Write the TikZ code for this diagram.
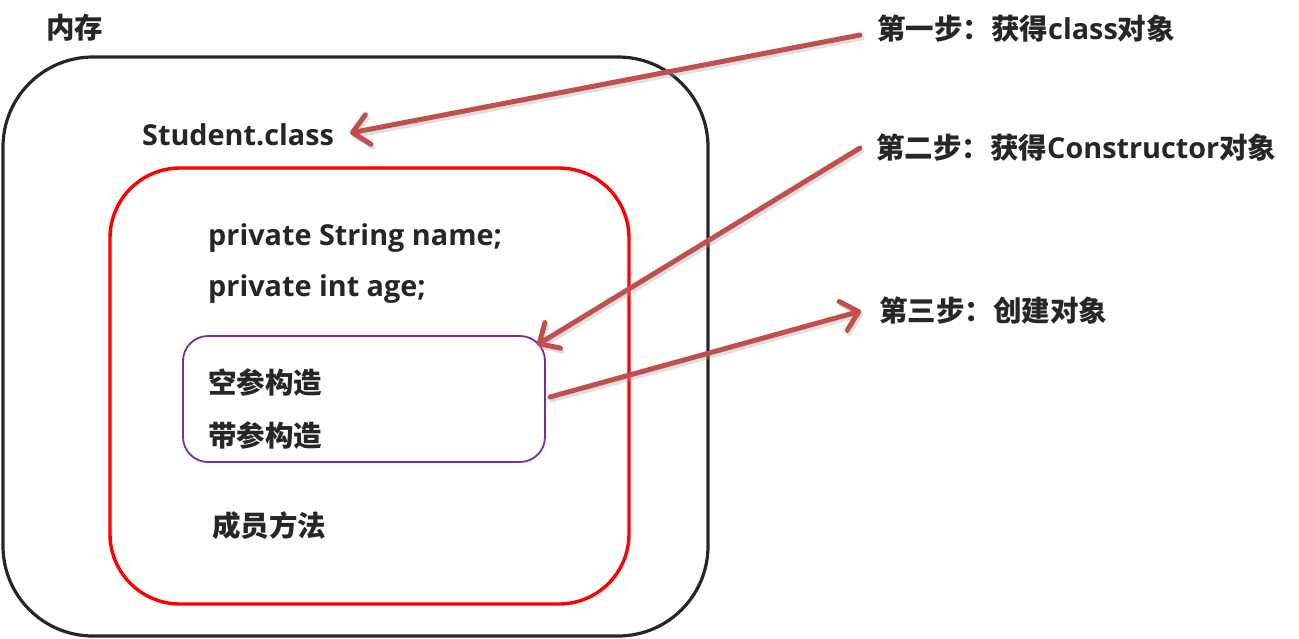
\documentclass[tikz,border=0pt]{standalone}
\usepackage{fontspec}
\setmainfont{Open Sans}
\newfontfamily\cjk{Noto Sans CJK SC}
\usetikzlibrary{arrows.meta}
\definecolor{txt}{RGB}{38,38,38}
\definecolor{arr}{RGB}{192,80,77}
\definecolor{purp}{RGB}{112,48,160}
\definecolor{frame}{RGB}{38,38,38}
\newcommand\zh[1]{{\cjk\bfseries\fontsize{28.5}{30}\selectfont #1}}
\tikzset{
  lbl/.style={anchor=base west, inner sep=0pt, text=txt, font=\bfseries\fontsize{28.8}{30}\selectfont},
  box/.style={draw, inner sep=0pt, outer sep=0pt},
  redarrow/.style={draw=arr, line width=5pt, line cap=round,
    -{Straight Barb[length=16pt, width=30pt, line cap=round, line join=round]}},
  shadowline/.style={draw=black!35, opacity=0.35, line width=5pt, line cap=round,
    -{Straight Barb[length=16pt, width=30pt, line cap=round, line join=round]}}
}
\begin{document}
\begin{tikzpicture}[x=1pt,y=-1pt]
\useasboundingbox (0,0) rectangle (1299,638);
% boxes
\node[box, draw=frame, line width=3.2pt, rounded corners=90pt, minimum width=705pt, minimum height=579pt] (mem) at (355.5,346.5) {};
\node[box, draw=red, line width=3.4pt, rounded corners=70pt, minimum width=519pt, minimum height=436pt] (cls) at (369.5,386) {};
\node[box, draw=purp, line width=1.8pt, rounded corners=25pt, minimum width=362pt, minimum height=126pt] (ctor) at (364,399) {};
% labels
\node[lbl] (memlbl) at (46,38) {\zh{内存}};
\node[lbl] (stud) at (142,145) {Student.class};
\node[lbl] (fname) at (208,245) {private String name;};
\node[lbl] (fage) at (208,296) {private int age;};
\node[lbl] (c1) at (208,393) {\zh{空参构造}};
\node[lbl] (c2) at (208,446) {\zh{带参构造}};
\node[lbl] (meth) at (212,536) {\zh{成员方法}};
\node[lbl] (s1) at (877,39) {\zh{第一步：获得}class\zh{对象}};
\node[lbl] (s2) at (876,158) {\zh{第二步：获得}Constructor\zh{对象}};
\node[lbl] (s3) at (879,321) {\zh{第三步：创建对象}};
% arrow ends
\coordinate (a1s) at (860,35);
\coordinate (a1e) at (350,133);
\coordinate (a2s) at (860,148);
\coordinate (a2e) at (537,345);
\coordinate (a3s) at (550,397);
\coordinate (a3e) at (861,311);
% shadows
\begin{scope}[transform canvas={shift={(2pt,-3pt)}}]
\draw[shadowline] (a1s) -- (a1e);
\draw[shadowline] (a2s) -- (a2e);
\draw[shadowline] (a3s) -- (a3e);
\end{scope}
\draw[redarrow] (a1s) -- (a1e);
\draw[redarrow] (a2s) -- (a2e);
\draw[redarrow] (a3s) -- (a3e);
\end{tikzpicture}
\end{document}
